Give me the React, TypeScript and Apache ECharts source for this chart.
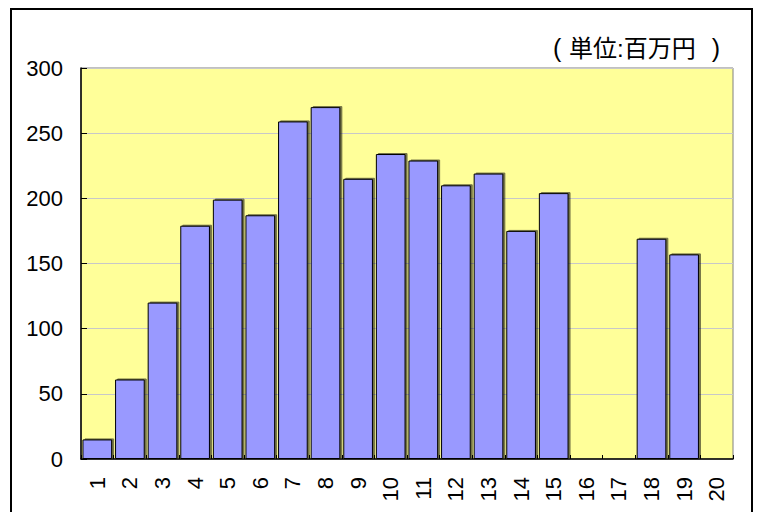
import React, { useEffect, useRef } from "react";
import * as echarts from "echarts";

const categories = ["1","2","3","4","5","6","7","8","9","10","11","12","13","14","15","16","17","18","19","20"];
const values: (number | null)[] = [15, 61, 120, 179, 199, 187, 259, 270, 215, 234, 229, 210, 219, 175, 204, null, null, 169, 157, null];
const unitOpen = "(";
const unitBody = "単位:百万円";
const unitClose = ")";
const yMin = 0;
const yMax = 300;
const yInterval = 50;

export default function App() {
  const ref = useRef<HTMLDivElement>(null);
  useEffect(() => {
    if (!ref.current) return;
    const chart = echarts.init(ref.current, null, { renderer: "svg" });
    const font = "'Liberation Sans', Arial, sans-serif";
    chart.setOption({
      animation: false,
      backgroundColor: "#ffffff",
      grid: {
        left: 81,
        top: 68,
        right: 27,
        bottom: 53,
        show: true,
        backgroundColor: "#FFFF99",
        borderColor: "#808080",
        borderWidth: 1,
      },
      graphic: [
        {
          type: "rect",
          shape: { x: 11, y: 9, width: 741, height: 520 },
          style: { fill: "none", stroke: "#000", lineWidth: 2 },
          silent: true,
        },
        {
          type: "text",
          x: 553,
          y: 48,
          style: {
            text: unitOpen,
            fill: "#000",
            font: "25px 'Liberation Sans', sans-serif",
            align: "left",
            verticalAlign: "middle",
          },
        },
        {
          type: "text",
          x: 569,
          y: 48,
          style: {
            text: unitBody,
            fill: "#000",
            font: "24px 'Liberation Sans', 'Noto Sans CJK JP', sans-serif",
            align: "left",
            verticalAlign: "middle",
          },
        },
        {
          type: "text",
          x: 720,
          y: 48,
          style: {
            text: unitClose,
            fill: "#000",
            font: "25px 'Liberation Sans', sans-serif",
            align: "right",
            verticalAlign: "middle",
          },
        },
      ],
      xAxis: {
        type: "category",
        data: categories,
        axisLine: { show: true, lineStyle: { color: "#000", width: 1.5 } },
        axisTick: { show: true, inside: true, length: 4, alignWithLabel: false, lineStyle: { color: "#000" } },
        axisLabel: {
          rotate: 90,
          margin: 18,
          interval: 0,
          color: "#000",
          fontSize: 22,
          fontFamily: font,
        },
        splitLine: { show: false },
      },
      yAxis: {
        type: "value",
        min: yMin,
        max: yMax,
        interval: yInterval,
        axisLine: { show: true, lineStyle: { color: "#000", width: 1.5 } },
        axisTick: { show: true, inside: true, length: 6, lineStyle: { color: "#000" } },
        axisLabel: {
          margin: 18,
          color: "#000",
          fontSize: 22,
          fontFamily: font,
        },
        splitLine: { show: true, lineStyle: { color: "#C8C8C8", width: 1 } },
      },
      series: [
        {
          type: "bar",
          data: values,
          barCategoryGap: "9%",
          itemStyle: {
            color: "#9999FF",
            borderColor: "#000",
            borderWidth: 1,
            shadowColor: "rgba(0,0,0,0.55)",
            shadowOffsetX: 2,
            shadowOffsetY: -1,
            shadowBlur: 0,
          },
        },
      ],
    });
    return () => chart.dispose();
  }, []);
  return (
    <div
      ref={ref}
      style={{ position: "fixed", left: 0, top: 0, width: 760, height: 512 }}
    />
  );
}
